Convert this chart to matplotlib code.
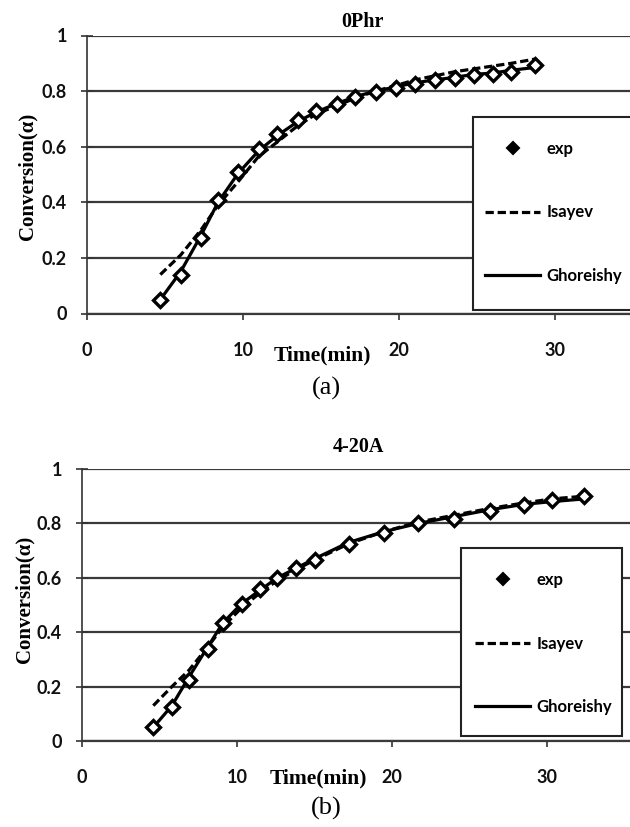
import matplotlib
matplotlib.use('Agg')
import matplotlib.pyplot as plt
from matplotlib.patches import Rectangle
from matplotlib.lines import Line2D

# (a) 0Phr
t_a = [4.7, 6.0, 7.3, 8.4, 9.7, 11.0, 12.2, 13.5, 14.7, 16.0,
       17.2, 18.5, 19.8, 21.0, 22.3, 23.6, 24.8, 26.0, 27.2, 28.7]
exp_a = [0.05, 0.14, 0.27, 0.41, 0.51, 0.59, 0.645, 0.695, 0.73, 0.755,
         0.78, 0.795, 0.81, 0.825, 0.84, 0.846, 0.858, 0.862, 0.87, 0.895]
isayev_a = [0.14, 0.21, 0.30, 0.39, 0.475, 0.565, 0.617, 0.675, 0.718, 0.747,
            0.775, 0.80, 0.82, 0.84, 0.855, 0.87, 0.88, 0.89, 0.90, 0.915]
ghor_a = [0.05, 0.15, 0.28, 0.40, 0.505, 0.585, 0.64, 0.69, 0.725, 0.755,
          0.78, 0.80, 0.815, 0.83, 0.84, 0.85, 0.86, 0.865, 0.875, 0.885]

# (b) 4-20A
t_b = [4.6, 5.8, 6.9, 8.1, 9.1, 10.3, 11.5, 12.6, 13.8, 15.0,
       17.2, 19.5, 21.7, 24.0, 26.3, 28.5, 30.3, 32.4]
exp_b = [0.05, 0.125, 0.225, 0.34, 0.435, 0.505, 0.56, 0.60, 0.635, 0.665,
         0.725, 0.765, 0.80, 0.815, 0.845, 0.868, 0.885, 0.90]
isayev_b = [0.13, 0.20, 0.26, 0.345, 0.42, 0.49, 0.545, 0.59, 0.63, 0.665,
            0.725, 0.77, 0.805, 0.83, 0.855, 0.875, 0.89, 0.90]
ghor_b = [0.05, 0.13, 0.235, 0.345, 0.435, 0.505, 0.555, 0.60, 0.635, 0.67,
          0.73, 0.77, 0.80, 0.825, 0.85, 0.87, 0.88, 0.89]

yticks = [0, 0.2, 0.4, 0.6, 0.8, 1]
ytick_labels = ['0', '0.2', '0.4', '0.6', '0.8', '1']
xticks = [0, 10, 20, 30]
xtick_labels = ['0', '10', '20', '30']

SERIF = 'Liberation Serif'
SANS = 'Lato'

W, H = 630, 827
fig = plt.figure(figsize=(W / 100, H / 100), dpi=100)


def panel(px, t, exp, isa, gho, title, title_xy, ylab_xy, xlab_xy, cap, cap_xy, box, leg_xy):
    # px = (x0, x_right, y_zero, y_one, px_per_unit) in pixels
    x0, x1, y0, y1, ppu = px
    ax = fig.add_axes([x0 / W, 1 - y0 / H, (x1 - x0) / W, (y0 - y1) / H])
    ax.set_xlim(0, (x1 - x0) / ppu)
    ax.set_ylim(0, 1)

    def axc(x, y):
        return ((x - x0) / (x1 - x0), (y0 - y) / (y0 - y1))

    l_isa, = ax.plot(t, isa, color='black', lw=2.3, dashes=(2.6, 1.2), zorder=3)
    l_gho, = ax.plot(t, gho, color='black', lw=2.3, zorder=3)
    ax.plot(t, exp, linestyle='none', marker='D', ms=7.5, mfc='white', mec='black',
            mew=2.4, zorder=4)
    ax.set_yticks(yticks)
    ax.set_yticklabels(ytick_labels)
    ax.set_xticks(xticks)
    ax.set_xticklabels(xtick_labels)
    for lab in ax.get_xticklabels() + ax.get_yticklabels():
        lab.set_fontfamily(SANS)
        lab.set_fontweight('bold')
        lab.set_fontsize(13)
        lab.set_color('#111111')
    ax.tick_params(axis='y', direction='inout', length=9, width=1.2, pad=10, color='#333333')
    ax.tick_params(axis='x', direction='out', length=4.5, width=1.2, pad=16, color='#333333')
    ax.yaxis.grid(True, color='#3a3a3a', lw=1.6)
    ax.set_axisbelow(True)
    for s in ['top', 'right']:
        ax.spines[s].set_visible(False)
    ax.spines['left'].set_color('#333333')
    ax.spines['left'].set_linewidth(1.2)
    ax.spines['bottom'].set_color('#3a3a3a')
    ax.spines['bottom'].set_linewidth(1.6)

    # legend frame drawn separately so it can run off the right edge
    bx0, by0 = axc(box[0], box[3])
    bx1, by1 = axc(box[2], box[1])
    ax.add_patch(Rectangle((bx0, by0), bx1 - bx0, by1 - by0, transform=ax.transAxes,
                           facecolor='white', edgecolor='#222222', lw=1.5,
                           clip_on=False, zorder=5))
    h_exp = Line2D([], [], linestyle='none', marker='D', ms=6, mfc='black',
                   mec='black', mew=1.5)
    leg = ax.legend([h_exp, l_isa, l_gho], ['exp', 'Isayev', 'Ghoreishy'],
                    loc='upper left', bbox_to_anchor=axc(*leg_xy),
                    prop={'family': SANS, 'weight': 'bold', 'size': 12},
                    frameon=False, borderpad=0, labelspacing=2.85, handlelength=3.3,
                    handletextpad=0.4, borderaxespad=0)
    leg.set_zorder(6)

    fig.text(title_xy[0] / W, 1 - title_xy[1] / H, title, family=SERIF,
             weight='bold', size=14.5, ha='center', va='center')
    fig.text(ylab_xy[0] / W, 1 - ylab_xy[1] / H, 'Conversion(α)', family=SERIF,
             weight='bold', size=15, ha='center', va='center', rotation=90)
    fig.text(xlab_xy[0] / W, 1 - xlab_xy[1] / H, 'Time(min)', family=SERIF,
             weight='bold', size=15.5, ha='center', va='center')
    fig.text(cap_xy[0] / W, 1 - cap_xy[1] / H, cap, family=SERIF,
             size=19, ha='center', va='center')
    return ax


# top panel: x axis 87..630 px, y 0 at 313.5, 1 at 35.5
panel((87, 630, 313.5, 35.5, 15.6), t_a, exp_a, isayev_a, ghor_a,
      '0Phr', (362, 22), (27, 176), (322, 355), '(a)', (326, 388),
      (473, 117, 660, 310), (485, 141))

# bottom panel: x axis 82..630 px, y 0 at 741, 1 at 469
panel((82, 630, 741, 469, 15.5), t_b, exp_b, isayev_b, ghor_b,
      '4-20A', (358, 447), (24, 599), (318, 778), '(b)', (326, 808),
      (461, 548, 622, 736), (475, 572))

fig.savefig('out.png', dpi=100)
